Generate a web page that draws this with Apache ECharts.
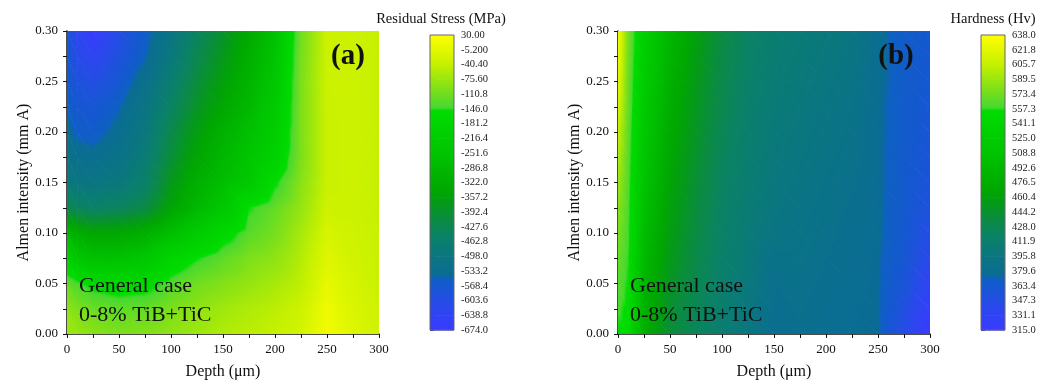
<!DOCTYPE html>
<html>
<head>
<meta charset="utf-8">
<script src="https://cdn.jsdelivr.net/npm/echarts@6/dist/echarts.min.js"></script>
<style>
  html, body { margin: 0; padding: 0; background: #fff; }
  #chart { width: 1059px; height: 383px; }
</style>
</head>
<body>
<div id="chart"></div>
<script>
// grid of measured points (depth in µm, almen intensity in mm A, rows top -> bottom)
const depth = [0, 10, 25, 50, 75, 100, 125, 150, 175, 200, 225, 250, 275, 300];
const almen = [0.3, 0.275, 0.25, 0.225, 0.2, 0.175, 0.15, 0.125, 0.1, 0.075, 0.05, 0.025, 0];

// residual stress (MPa)
const stress = [
  [-575, -630, -665, -600, -560, -505, -440, -390, -330, -260, -110, -30, -30, -40],
  [-570, -610, -630, -590, -550, -490, -425, -375, -315, -250, -105, -32, -30, -40],
  [-560, -590, -600, -570, -525, -465, -405, -355, -300, -240, -100, -33, -30, -40],
  [-550, -570, -575, -550, -505, -445, -385, -335, -285, -225, -100, -34, -30, -40],
  [-535, -555, -560, -535, -490, -420, -360, -310, -265, -210, -100, -35, -30, -40],
  [-515, -530, -535, -515, -475, -400, -340, -290, -245, -195, -100, -35, -30, -40],
  [-485, -500, -505, -490, -455, -375, -315, -270, -230, -155, -90, -35, -30, -40],
  [-420, -440, -450, -440, -415, -345, -290, -240, -150, -120, -80, -30, -30, -40],
  [-290, -320, -340, -335, -315, -270, -220, -170, -130, -105, -65, -20, -28, -38],
  [-200, -240, -260, -260, -240, -180, -150, -125, -100, -85, -55, -10, -25, -36],
  [-120, -140, -160, -170, -165, -135, -110, -95, -80, -65, -45, 0, -20, -34],
  [-85, -100, -115, -125, -120, -100, -85, -70, -58, -48, -30, 10, -15, -30],
  [-70, -78, -90, -100, -95, -85, -72, -58, -48, -38, -22, 15, -10, -28]
];

// hardness (Hv)
const hardness = [
  [632, 575, 530, 490, 460, 436, 420, 410, 405, 400, 395, 377, 368, 364],
  [628, 573, 527, 486, 457, 434, 418, 408, 403, 398, 393, 377, 368, 363],
  [622, 571, 524, 482, 454, 432, 416, 406, 401, 396, 391, 377, 368, 362],
  [614, 569, 520, 478, 451, 430, 414, 404, 399, 394, 389, 376, 367, 361],
  [606, 567, 516, 474, 448, 427, 412, 402, 397, 392, 387, 376, 367, 360],
  [598, 565, 512, 470, 445, 424, 410, 400, 395, 390, 385, 376, 366, 358],
  [590, 563, 508, 466, 442, 421, 408, 398, 393, 388, 383, 376, 366, 356],
  [583, 561, 503, 462, 439, 419, 406, 396, 391, 386, 381, 376, 365, 353],
  [576, 559, 498, 458, 436, 417, 404, 393, 389, 384, 379, 376, 364, 348],
  [570, 557, 493, 454, 433, 415, 402, 386, 387, 382, 378, 375, 362, 340],
  [565, 555, 488, 449, 430, 413, 400, 382, 385, 380, 377, 375, 358, 332],
  [560, 553, 484, 444, 427, 411, 398, 380, 383, 378, 376, 375, 352, 324],
  [555, 551, 480, 440, 425, 409, 396, 378, 381, 376, 376, 375, 345, 316]
];

// colour scale limits and tick labels (bottom -> top)
const stressRange = [-674, 30];
const hardRange = [315, 638];
const stressTicks = ['-674.0', '-638.8', '-603.6', '-568.4', '-533.2', '-498.0', '-462.8', '-427.6', '-392.4', '-357.2',
  '-322.0', '-286.8', '-251.6', '-216.4', '-181.2', '-146.0', '-110.8', '-75.60', '-40.40', '-5.200', '30.00'];
const hardTicks = ['315.0', '331.1', '347.3', '363.4', '379.6', '395.8', '411.9', '428.0', '444.2', '460.4',
  '476.5', '492.6', '508.8', '525.0', '541.1', '557.3', '573.4', '589.5', '605.7', '621.8', '638.0'];

const FONT = 'Liberation Serif';

// colour map (fraction of range -> colour)
const cmapStops = [
  [0.00, '#3a3aff'], [0.08, '#2a48ec'], [0.15, '#1458d0'], [0.178, '#0e60c2'],
  [0.185, '#0a6c94'], [0.25, '#0a7680'], [0.32, '#0a8266'], [0.38, '#0a8c40'],
  [0.43, '#049a18'], [0.48, '#00a800'], [0.60, '#00c400'], [0.745, '#00dc00'],
  [0.755, '#48d830'], [0.82, '#80e018'], [0.90, '#c4f000'], [1.00, '#ffff00']
];
const stopRgb = cmapStops.map(s => [s[0], [1, 3, 5].map(i => parseInt(s[1].substr(i, 2), 16))]);

function cmap(f) {
  f = Math.max(0, Math.min(1, f));
  for (let i = 1; i < stopRgb.length; i++) {
    if (f <= stopRgb[i][0]) {
      const a = stopRgb[i - 1], b = stopRgb[i];
      const t = (f - a[0]) / (b[0] - a[0] || 1);
      const c = a[1].map((v, k) => Math.round(v + (b[1][k] - v) * t));
      return `rgb(${c[0]},${c[1]},${c[2]})`;
    }
  }
  return cmapStops[cmapStops.length - 1][1];
}

function cells(grid) {
  const out = [];
  for (let r = 0; r < almen.length - 1; r++) {
    for (let c = 0; c < depth.length - 1; c++) {
      out.push([depth[c], almen[r], depth[c + 1], almen[r + 1],
        grid[r][c], grid[r][c + 1], grid[r + 1][c], grid[r + 1][c + 1]]);
    }
  }
  return out;
}

// linear interpolation inside a triangle, drawn as a gradient along the value gradient
function tri(pts, vals, range) {
  const [A, B, C] = pts;
  const d1x = B[0] - A[0], d1y = B[1] - A[1], d2x = C[0] - A[0], d2y = C[1] - A[1];
  const det = d1x * d2y - d1y * d2x;
  const dv1 = vals[1] - vals[0], dv2 = vals[2] - vals[0];
  const gx = (dv1 * d2y - d1y * dv2) / det;
  const gy = (d1x * dv2 - dv1 * d2x) / det;
  const g2 = gx * gx + gy * gy;
  const lo = Math.min(...vals), hi = Math.max(...vals);
  const span = range[1] - range[0];
  let fill;
  if (hi - lo < 1e-6 || g2 < 1e-12) {
    fill = cmap((vals[0] - range[0]) / span);
  } else {
    const P = pts[vals.indexOf(lo)];
    const t = (hi - lo) / g2;
    const stops = [];
    const N = 16;
    for (let k = 0; k <= N; k++) {
      const v = lo + (hi - lo) * k / N;
      stops.push({ offset: k / N, color: cmap((v - range[0]) / span) });
    }
    fill = { type: 'linear', x: P[0], y: P[1], x2: P[0] + gx * t, y2: P[1] + gy * t, global: true, colorStops: stops };
  }
  // grow the triangle a little so neighbours overlap (no hairline seams)
  const cx = (A[0] + B[0] + C[0]) / 3, cy = (A[1] + B[1] + C[1]) / 3;
  const grown = pts.map(p => {
    const dx = p[0] - cx, dy = p[1] - cy, d = Math.hypot(dx, dy) || 1;
    return [p[0] + dx / d * 0.8, p[1] + dy / d * 0.8];
  });
  return { type: 'polygon', shape: { points: grown }, style: { fill: fill } };
}

function contourItem(range) {
  return function (params, api) {
    const x0 = api.value(0), y0 = api.value(1), x1 = api.value(2), y1 = api.value(3);
    const p00 = api.coord([x0, y0]), p10 = api.coord([x1, y0]);
    const p01 = api.coord([x0, y1]), p11 = api.coord([x1, y1]);
    const v00 = api.value(4), v10 = api.value(5), v01 = api.value(6), v11 = api.value(7);
    return {
      type: 'group',
      children: [
        tri([p00, p10, p11], [v00, v10, v11], range),
        tri([p00, p11, p01], [v00, v11, v01], range)
      ]
    };
  };
}

// colour bar bands (band k runs from tick k to tick k+1)
const bands = Array.from({ length: 20 }, (_, k) => [k, k + 1]);
function barItem(params, api) {
  const a = api.coord([0, api.value(0)]);
  const b = api.coord([1, api.value(1)]);
  const k = api.value(0);
  const stops = [];
  for (let s = 0; s <= 8; s++) {
    stops.push({ offset: s / 8, color: cmap((k + 1 - s / 8) / 20) });
  }
  return {
    type: 'rect',
    shape: { x: a[0], y: b[1], width: b[0] - a[0], height: a[1] - b[1] + 0.6 },
    style: { fill: { type: 'linear', x: 0, y: 0, x2: 0, y2: 1, colorStops: stops } }
  };
}

const plotAxisX = (gridIndex) => ({
  gridIndex, type: 'value', min: 0, max: 300, interval: 50,
  name: 'Depth (\u03bcm)', nameLocation: 'middle', nameGap: 30,
  nameTextStyle: { fontFamily: FONT, fontSize: 16, color: '#111' },
  axisLine: { onZero: false, lineStyle: { color: '#111', width: 1.5 } },
  axisTick: { length: 4, lineStyle: { color: '#111' } },
  minorTick: { show: true, splitNumber: 2, length: 4, lineStyle: { color: '#111' } },
  axisLabel: { fontFamily: FONT, fontSize: 13, color: '#111', margin: 9 },
  splitLine: { show: false }
});
const plotAxisY = (gridIndex) => ({
  gridIndex, type: 'value', min: 0, max: 0.3, interval: 0.05,
  name: 'Almen intensity (mm A)', nameLocation: 'middle', nameGap: 35,
  nameTextStyle: { fontFamily: FONT, fontSize: 16, color: '#111' },
  axisLine: { onZero: false, lineStyle: { color: '#111', width: 1.5 } },
  axisTick: { length: 4, lineStyle: { color: '#111' } },
  minorTick: { show: true, splitNumber: 2, length: 4, lineStyle: { color: '#111' } },
  axisLabel: { fontFamily: FONT, fontSize: 13, color: '#111', margin: 9, formatter: v => v.toFixed(2) },
  splitLine: { show: false }
});
const barAxisX = (gridIndex) => ({ gridIndex, type: 'value', min: 0, max: 1, show: false });
const barAxisY = (gridIndex, ticks) => ({
  gridIndex, type: 'value', min: 0, max: 20, interval: 1, position: 'right',
  axisLine: { show: false },
  axisTick: { length: 4, lineStyle: { color: '#444' } },
  axisLabel: { fontFamily: FONT, fontSize: 10.5, color: '#222', margin: 7, formatter: v => ticks[Math.round(v)] },
  splitLine: { show: false }
});

const textEl = (x, y, text, size, extra) => ({
  type: 'text', x, y, z: 100,
  style: Object.assign({ text, fontFamily: FONT, fontSize: size, fill: '#111' }, extra || {})
});

const option = {
  backgroundColor: '#fff',
  animation: false,
  grid: [
    { left: 67, top: 31, width: 312, height: 303, outerBoundsMode: 'none' },
    { left: 430, top: 35, width: 24, height: 295, outerBoundsMode: 'none', show: true, z: 10, borderColor: '#666', borderWidth: 1, backgroundColor: 'transparent' },
    { left: 618, top: 31, width: 312, height: 303, outerBoundsMode: 'none' },
    { left: 981, top: 35, width: 24, height: 295, outerBoundsMode: 'none', show: true, z: 10, borderColor: '#666', borderWidth: 1, backgroundColor: 'transparent' }
  ],
  xAxis: [plotAxisX(0), barAxisX(1), plotAxisX(2), barAxisX(3)],
  yAxis: [plotAxisY(0), barAxisY(1, stressTicks), plotAxisY(2), barAxisY(3, hardTicks)],
  series: [
    { type: 'custom', xAxisIndex: 0, yAxisIndex: 0, data: cells(stress), renderItem: contourItem(stressRange), clip: true, silent: true },
    { type: 'custom', xAxisIndex: 1, yAxisIndex: 1, data: bands, renderItem: barItem, silent: true },
    { type: 'custom', xAxisIndex: 2, yAxisIndex: 2, data: cells(hardness), renderItem: contourItem(hardRange), clip: true, silent: true },
    { type: 'custom', xAxisIndex: 3, yAxisIndex: 3, data: bands, renderItem: barItem, silent: true }
  ],
  graphic: [
    textEl(348, 57, '(a)', 29, { fontWeight: 'bold', align: 'center', verticalAlign: 'middle' }),
    textEl(896, 57, '(b)', 29, { fontWeight: 'bold', align: 'center', verticalAlign: 'middle' }),
    textEl(79, 286, 'General case', 22, { verticalAlign: 'middle' }),
    textEl(79, 315, '0-8% TiB+TiC', 22, { verticalAlign: 'middle' }),
    textEl(630, 286, 'General case', 22, { verticalAlign: 'middle' }),
    textEl(630, 315, '0-8% TiB+TiC', 22, { verticalAlign: 'middle' }),
    textEl(441, 19, 'Residual Stress (MPa)', 14.5, { align: 'center', verticalAlign: 'middle' }),
    textEl(993, 19, 'Hardness (Hv)', 14.5, { align: 'center', verticalAlign: 'middle' })
  ]
};

const chart = echarts.init(document.getElementById('chart'), null, { renderer: 'canvas' });
chart.setOption(option);
</script>
</body>
</html>
